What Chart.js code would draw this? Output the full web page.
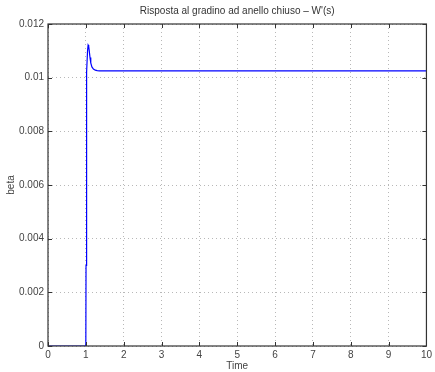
<!DOCTYPE html>
<html>
<head>
<meta charset="utf-8">
<script src="https://cdn.jsdelivr.net/npm/chart.js@4"></script>
<style>
  html, body { margin: 0; padding: 0; background: #fff; }
  #wrap { width: 435px; height: 372px; }
</style>
</head>
<body>
<div id="wrap"><canvas id="grafico"></canvas></div>
<script>
// risposta al gradino (anello chiuso)
const tempi = [0, 1.0, 1.005, 1.01, 1.02, 1.03, 1.045, 1.06, 1.075, 1.09, 1.11, 1.13, 1.16, 1.2, 1.25, 1.3, 1.36, 1.45, 1.6, 2, 4, 6, 8, 10]
const beta = [0, 0, 0.0030, 0.0056, 0.0086, 0.0102, 0.0110, 0.01122, 0.01118, 0.0110, 0.01075, 0.01055, 0.0104, 0.01032, 0.01028, 0.01026, 0.01025, 0.01025, 0.01025, 0.01025, 0.01025, 0.01025, 0.01025, 0.01025]
const tickX = [0, 1, 2, 3, 4, 5, 6, 7, 8, 9, 10]
const tickY = [0, 0.002, 0.004, 0.006, 0.008, 0.01, 0.012]

const titolo = 'Risposta al gradino ad anello chiuso \u2013 W\'(s)'
const fontBase = 'Liberation Sans, Arial, Helvetica, sans-serif'

const punti = tempi.map((t, i) => ({ x: t, y: beta[i] }))

// tacche interne e bordo del riquadro, stile matlab
const riquadro = {
  id: 'riquadro',
  afterDraw(chart) {
    const { ctx, chartArea: a, scales } = chart
    ctx.save()
    ctx.strokeStyle = '#333'
    ctx.lineWidth = 1
    ctx.beginPath()
    tickX.forEach(v => {
      const px = Math.round(scales.x.getPixelForValue(v)) + 0.5
      ctx.moveTo(px, a.bottom); ctx.lineTo(px, a.bottom - 4)
      ctx.moveTo(px, a.top); ctx.lineTo(px, a.top + 4)
    })
    tickY.forEach(v => {
      const py = Math.round(scales.y.getPixelForValue(v)) + 0.5
      ctx.moveTo(a.left, py); ctx.lineTo(a.left + 4, py)
      ctx.moveTo(a.right, py); ctx.lineTo(a.right - 4, py)
    })
    ctx.stroke()
    ctx.lineWidth = 1.2
    ctx.strokeRect(a.left, a.top, a.right - a.left, a.bottom - a.top)
    ctx.fillStyle = '#333'
    ctx.font = '10px ' + fontBase
    ctx.textAlign = 'center'
    ctx.textBaseline = 'middle'
    ctx.fillText(titolo, (a.left + a.right) / 2, 11)
    ctx.restore()
  }
}

new Chart(document.getElementById('grafico'), {
  type: 'line',
  data: {
    datasets: [{
      label: 'beta',
      data: punti,
      borderColor: '#0000ff',
      borderWidth: 1.2,
      pointRadius: 0,
      fill: false,
      tension: 0
    }]
  },
  options: {
    responsive: true,
    maintainAspectRatio: false,
    animation: false,
    layout: { padding: { top: 24, right: 4.5, left: 0, bottom: 0 } },
    plugins: {
      legend: { display: false },
      tooltip: { enabled: false }
    },
    scales: {
      x: {
        type: 'linear',
        min: 0,
        max: 10,
        afterBuildTicks: s => { s.ticks = tickX.map(v => ({ value: v })) },
        afterFit: s => { s.height = 26 },
        grid: { color: '#b8b8b8', drawTicks: false },
        border: { display: false, dash: [1, 3] },
        ticks: { color: '#444', font: { size: 10, family: fontBase }, padding: 3, maxRotation: 0 },
        title: { display: true, text: 'Time', color: '#444', font: { size: 10, family: fontBase }, padding: { top: -1, bottom: 0 } }
      },
      y: {
        type: 'linear',
        min: 0,
        max: 0.012,
        afterBuildTicks: s => { s.ticks = tickY.map(v => ({ value: v })) },
        afterFit: s => { s.width = 48 },
        grid: { color: '#b8b8b8', drawTicks: false },
        border: { display: false, dash: [1, 3] },
        ticks: {
          color: '#444',
          font: { size: 10, family: fontBase },
          padding: 4,
          callback: v => String(+v.toFixed(3))
        },
        title: { display: true, text: 'beta', color: '#444', font: { size: 10, family: fontBase }, padding: { top: 5, bottom: 0 } }
      }
    }
  },
  plugins: [riquadro]
})
</script>
</body>
</html>
